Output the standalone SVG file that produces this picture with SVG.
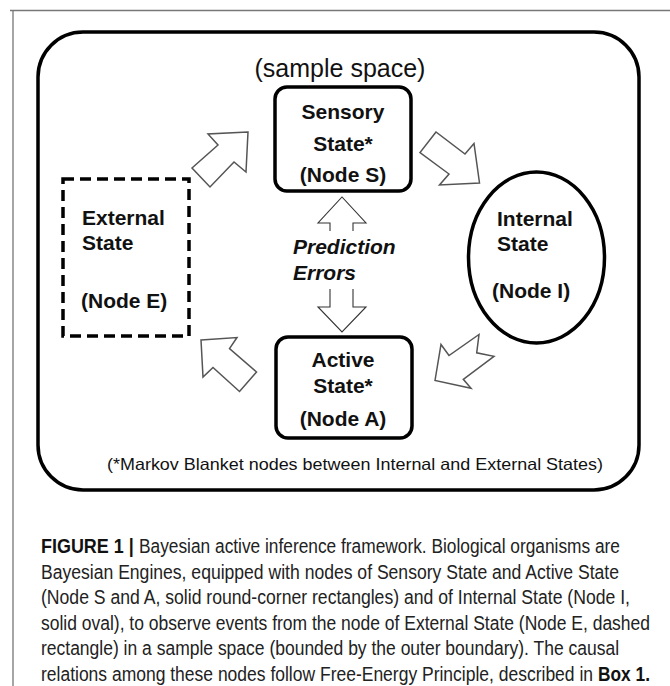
<svg xmlns="http://www.w3.org/2000/svg" width="670" height="686" viewBox="0 0 670 686">
<style>
.frame{stroke:#777;stroke-width:1.3;fill:none}
.outer{fill:none;stroke:#000;stroke-width:3.5}
.node{fill:#fff;stroke:#000;stroke-width:3.5}
.dash{fill:none;stroke:#000;stroke-width:3.5;stroke-dasharray:11 6}
.lbl{font-family:"Liberation Sans",Arial,sans-serif;font-weight:bold;font-size:21px;fill:#111}
.big{fill:#fff;stroke:#555;stroke-width:1.5;stroke-linejoin:miter}
.pe{fill:none;stroke:#333;stroke-width:1.1}
.txt{font-family:"Liberation Sans",Arial,sans-serif;fill:#111}
.cap{font-family:"Liberation Sans",Arial,sans-serif;font-size:20px;fill:#222}
.capb{font-family:"Liberation Sans",Arial,sans-serif;font-size:20px;font-weight:bold;fill:#111}
</style>
<rect width="670" height="686" fill="#fff"/>
<path class="frame" d="M10,10.5 H670 M13,10 V686"/>
<g id="sample-space">
<rect class="outer" x="38" y="32" width="601" height="458" rx="45"/>
<text class="txt" x="340" y="77" font-size="25" text-anchor="middle">(sample space)</text>
<text class="txt" x="355" y="470" font-size="16.5" text-anchor="middle" textLength="496" lengthAdjust="spacingAndGlyphs">(*Markov Blanket nodes between Internal and External States)</text>
</g>
<g id="node-S">
<rect class="node" x="275" y="87" width="136" height="104" rx="12"/>
<text class="lbl" x="343" y="119" text-anchor="middle">Sensory</text>
<text class="lbl" x="343" y="151" text-anchor="middle">State*</text>
<text class="lbl" x="343" y="182" text-anchor="middle">(Node S)</text>
</g>
<g id="node-I">
<ellipse class="node" cx="536.5" cy="257.5" rx="68" ry="85.5"/>
<text class="lbl" x="497" y="226">Internal</text>
<text class="lbl" x="497" y="251">State</text>
<text class="lbl" x="492" y="298">(Node I)</text>
</g>
<g id="node-A">
<rect class="node" x="276" y="337" width="136" height="101" rx="12"/>
<text class="lbl" x="343" y="367" text-anchor="middle">Active</text>
<text class="lbl" x="343" y="393" text-anchor="middle">State*</text>
<text class="lbl" x="343" y="426" text-anchor="middle">(Node A)</text>
</g>
<g id="node-E">
<rect class="dash" x="63" y="179" width="126" height="157"/>
<text class="lbl" x="82" y="225">External</text>
<text class="lbl" x="82" y="250">State</text>
<text class="lbl" x="81" y="308">(Node E)</text>
</g>
<g id="connectors">
<polygon class="big" points="248,132 208,134 218,145 192,168 210,187 234,162 246,172"/>
<polygon class="big" points="436,132 420,152.5 449,174 439.5,185 479.5,183 474,143.5 465,154"/>
<polygon class="big" points="435,380.5 441,344.5 449,355.5 479,334.5 476.7,352.8 494,356.3 463.3,379.3 471,388.3"/>
<polygon class="big" points="201,340 237,337.5 229.5,348.5 256.5,372 239.5,391.5 213,367.5 203,377"/>
<path class="pe" d="M330,231 V223 H318 L342,197 L366,223 H353 V231"/>
<path class="pe" d="M330,289 V307 H318 L342,332 L366,307 H353 V289"/>
</g>
<g id="prediction-errors">
<text class="lbl" x="293" y="254" font-style="italic">Prediction</text>
<text class="lbl" x="293" y="280" font-style="italic">Errors</text>
</g>
<g id="caption">
<text class="capb" transform="translate(41,553) scale(0.875,1)" textLength="106" lengthAdjust="spacingAndGlyphs">FIGURE 1 |</text>
<text class="cap" transform="translate(139,553) scale(0.875,1)" textLength="549.7" lengthAdjust="spacingAndGlyphs">Bayesian active inference framework. Biological organisms are</text>
<text class="cap" transform="translate(41,578.6) scale(0.875,1)" textLength="660.6" lengthAdjust="spacingAndGlyphs">Bayesian Engines, equipped with nodes of Sensory State and Active State</text>
<text class="cap" transform="translate(41,604.2) scale(0.875,1)" textLength="673.1" lengthAdjust="spacingAndGlyphs">(Node S and A, solid round-corner rectangles) and of Internal State (Node I,</text>
<text class="cap" transform="translate(41,629.8) scale(0.875,1)" textLength="696" lengthAdjust="spacingAndGlyphs">solid oval), to observe events from the node of External State (Node E, dashed</text>
<text class="cap" transform="translate(41,655.4) scale(0.875,1)" textLength="660.6" lengthAdjust="spacingAndGlyphs">rectangle) in a sample space (bounded by the outer boundary). The causal</text>
<text class="cap" transform="translate(41,681) scale(0.875,1)" textLength="630.9" lengthAdjust="spacingAndGlyphs">relations among these nodes follow Free-Energy Principle, described in</text>
<text class="capb" transform="translate(598,681) scale(0.875,1)" textLength="59.4" lengthAdjust="spacingAndGlyphs">Box 1.</text>
</g>
</svg>
